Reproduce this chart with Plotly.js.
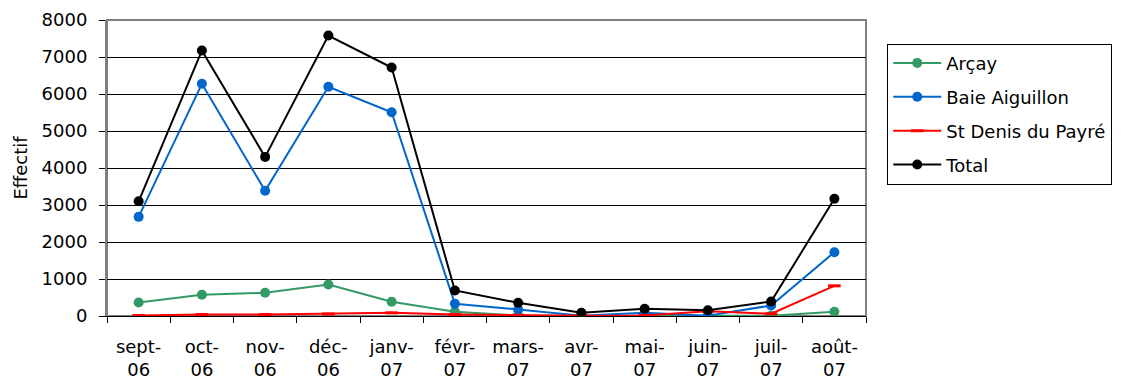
<!DOCTYPE html>
<html>
<head>
<meta charset="utf-8">
<script src="https://cdn.plot.ly/plotly-3.0.1.min.js"></script>
<style>html,body{margin:0;padding:0;background:#fff;}#chart{width:1128px;height:385px;}</style>
</head>
<body>
<div id="chart"></div>
<script>
const months = ["sept-<br>06","oct-<br>06","nov-<br>06","déc-<br>06","janv-<br>07","févr-<br>07","mars-<br>07","avr-<br>07","mai-<br>07","juin-<br>07","juil-<br>07","août-<br>07"];
const arcay = [365, 573, 627, 851, 384, 113, 14, 0, 10, 5, 5, 113];
const baieAiguillon = [2680, 6275, 3383, 6195, 5508, 330, 176, 10, 86, 10, 284, 1724];
const stDenis = [15, 40, 40, 55, 85, 40, 20, 10, 15, 130, 60, 816];
const total = [3100, 7175, 4300, 7580, 6716, 690, 357, 86, 195, 157, 392, 3167];

const font = {family: "DejaVu Sans, sans-serif", size: 18, color: "#000"};

function dotTrace(name, y, color, group) {
  return {x: months, y: y, name: name, type: "scatter", mode: "lines+markers",
    legendgroup: group,
    line: {color: color, width: 2},
    marker: {color: color, size: 10, symbol: "circle"}};
}
const traces = [
  dotTrace("Arçay", arcay, "#339966", "a"),
  dotTrace("Baie Aiguillon", baieAiguillon, "#0066CC", "b"),
  {x: months, y: stDenis, name: "St Denis du Payré", type: "scatter", mode: "lines+markers",
   legendgroup: "c",
   line: {color: "#FF0000", width: 2},
   marker: {symbol: "line-ew", size: 9, color: "#FF0000", line: {color: "#FF0000", width: 3}}},
  dotTrace("Total", total, "#000000", "d")
];

const layout = {
  width: 1128, height: 385,
  margin: {l: 107, r: 262, t: 20, b: 69},
  paper_bgcolor: "#fff", plot_bgcolor: "#fff",
  font: font,
  showlegend: true,
  legend: {x: 1.028, y: 0.92, xanchor: "left", yanchor: "top",
    bordercolor: "#000", borderwidth: 1, bgcolor: "#fff",
    font: {family: font.family, size: 18, color: "#000"},
    itemwidth: 48,
    traceorder: "grouped", tracegroupgap: 7.5},
  xaxis: {type: "category", range: [-0.5, 11.5], tickson: "boundaries",
    ticks: "outside", ticklen: 6, tickcolor: "#000", tickwidth: 1,
    ticklabelstandoff: 14,
    showline: true, linecolor: "#000", linewidth: 1, mirror: false,
    showgrid: false, tickfont: font, tickangle: 0, fixedrange: true},
  yaxis: {range: [0, 8000], dtick: 1000, tickformat: "d",
    ticks: "outside", ticklen: 6, tickcolor: "#000",
    ticklabelstandoff: 8,
    showline: true, linecolor: "#808080", linewidth: 2,
    showgrid: true, gridcolor: "#000", gridwidth: 1,
    zeroline: false, tickfont: font,
    title: {text: "Effectif", font: font, standoff: 9}},
  shapes: [
    {type: "rect", xref: "paper", yref: "paper", x0: 0, x1: 1, y0: 0, y1: 1,
     line: {color: "#808080", width: 2}, fillcolor: "rgba(0,0,0,0)", layer: "below"}
  ]
};

Plotly.newPlot("chart", traces, layout, {displayModeBar: false, staticPlot: true});
</script>
</body>
</html>
